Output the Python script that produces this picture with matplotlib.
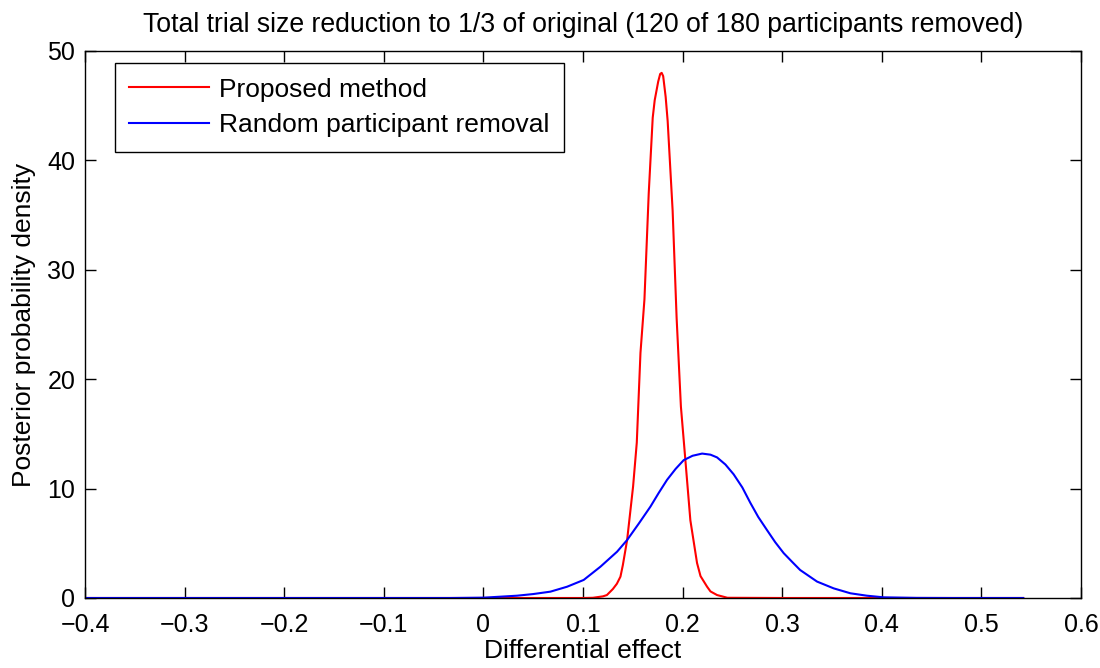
import matplotlib
matplotlib.use("Agg")
import matplotlib.pyplot as plt

plt.rcParams['font.family'] = ['Liberation Sans', 'DejaVu Sans']

# posterior density of the differential effect, proposed method
proposed_x = [-0.4, 0.0, 0.100, 0.110, 0.120, 0.124, 0.130, 0.134, 0.1376, 0.140,
              0.1443, 0.147, 0.1503, 0.154, 0.1577, 0.1617, 0.166, 0.170, 0.172,
              0.1755, 0.1775, 0.179, 0.1805, 0.183, 0.185, 0.190, 0.194, 0.1983,
              0.2028, 0.2078, 0.2145, 0.218, 0.2246, 0.228, 0.2346, 0.245, 0.30,
              0.542]
proposed_y = [0.0, 0.0, 0.0, 0.02, 0.15, 0.27, 0.82, 1.3, 1.95, 3.0,
              5.3, 7.5, 10.2, 14.2, 22.4, 27.3, 37.0, 43.9, 45.5,
              47.2, 47.9, 48.0, 47.7, 45.8, 43.6, 35.4, 25.6, 17.5,
              12.6, 7.1, 3.2, 2.0, 1.03, 0.6, 0.27, 0.02, 0.0,
              0.0]

# posterior density with random participant removal
random_x = [-0.4, -0.033, 0.0003, 0.0338, 0.05, 0.0673, 0.084, 0.1007, 0.1175,
            0.1342, 0.1443, 0.156, 0.1677, 0.176, 0.1844, 0.193, 0.2011, 0.21,
            0.2196, 0.228, 0.2346, 0.243, 0.2513, 0.26, 0.268, 0.276, 0.2848,
            0.293, 0.3015, 0.31, 0.318, 0.335, 0.3517, 0.3685, 0.385, 0.402,
            0.435, 0.47, 0.542]
random_y = [0.0, 0.0, 0.03, 0.21, 0.36, 0.58, 1.03, 1.65, 2.86,
            4.23, 5.3, 6.8, 8.35, 9.6, 10.8, 11.8, 12.6, 13.0,
            13.2, 13.1, 12.85, 12.2, 11.3, 10.1, 8.7, 7.4, 6.2,
            5.1, 4.1, 3.3, 2.56, 1.5, 0.88, 0.43, 0.21, 0.06,
            0.01, 0.0, 0.0]

fig = plt.figure(figsize=(11, 6.68), dpi=100)
ax = fig.add_axes([0.0773, 0.1048, 0.9054, 0.8189])

ax.plot(proposed_x, proposed_y, color='#ff0000', lw=1.5, label='Proposed method')
ax.plot(random_x, random_y, color='#0000ff', lw=1.5, label='Random participant removal')

ax.set_xlim(-0.4, 0.6)
ax.set_ylim(0, 50)
ax.set_xticks([-0.4, -0.3, -0.2, -0.1, 0, 0.1, 0.2, 0.3, 0.4, 0.5, 0.6])
ax.set_xticklabels(['\u22120.4', '\u22120.3', '\u22120.2', '\u22120.1', '0',
                    '0.1', '0.2', '0.3', '0.4', '0.5', '0.6'])
ax.set_yticks([0, 10, 20, 30, 40, 50])
ax.tick_params(direction='in', length=8, width=1, top=True, right=True,
               labelsize=18)
ax.tick_params(axis='x', pad=11)
ax.tick_params(axis='y', pad=7)
for s in ax.spines.values():
    s.set_linewidth(1)

ax.set_xlabel('Differential effect', fontsize=19, labelpad=1)
ax.set_ylabel('Posterior probability density', fontsize=19, labelpad=8)
ax.set_title('Total trial size reduction to 1/3 of original (120 of 180 participants removed)',
             fontsize=19.2, pad=14)

leg = ax.legend(loc='upper left', bbox_to_anchor=(0.03, 0.978), fontsize=19,
                fancybox=False, edgecolor='black', framealpha=1,
                handlelength=3.0, handletextpad=0.38, borderpad=0.55,
                labelspacing=0.45, borderaxespad=0)
leg.get_frame().set_linewidth(1)

fig.savefig('out.png', dpi=100)
